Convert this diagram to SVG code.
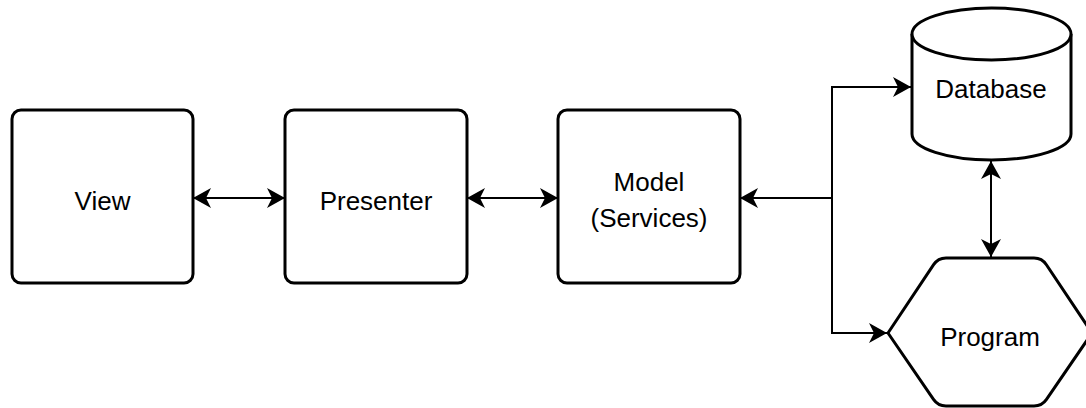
<svg xmlns="http://www.w3.org/2000/svg" width="1086" height="408" viewBox="0 0 1086 408">
  <style>
    .shape { fill: #ffffff; stroke: #000000; stroke-width: 3; stroke-linejoin: round; }
    .label { font-family: "Liberation Sans", Arial, sans-serif; font-size: 26px; fill: #000000; text-anchor: middle; }
    .link { fill: none; stroke: #000000; stroke-width: 2; }
  </style>
  <defs>
    <marker id="arrow" markerUnits="userSpaceOnUse" viewBox="0 -11 20 22" refX="18" refY="0" markerWidth="20" markerHeight="22" orient="auto-start-reverse">
      <path d="M0,-10 L18,0 L0,10 L5,0 Z" fill="#000000"/>
    </marker>
  </defs>
  <rect width="1086" height="408" fill="#ffffff"/>

  <g id="view">
    <rect class="shape" x="12" y="110" width="181" height="173" rx="9"/>
    <text class="label" x="102.5" y="209.5">View</text>
  </g>

  <g id="presenter">
    <rect class="shape" x="285" y="110" width="182" height="173" rx="9"/>
    <text class="label" x="376" y="209.5">Presenter</text>
  </g>

  <g id="model">
    <rect class="shape" x="558" y="110" width="182" height="173" rx="9"/>
    <text class="label" x="649" y="191">Model</text>
    <text class="label" x="649" y="227">(Services)</text>
  </g>

  <g id="database">
    <path class="shape" d="M912,34 A79.5,26 0 0 1 1071,34 L1071,134 A79.5,26 0 0 1 912,134 Z"/>
    <path class="shape" fill="none" d="M912,34 A79.5,26 0 0 0 1071,34"/>
    <text class="label" x="991" y="98">Database</text>
  </g>

  <g id="program">
    <!-- hexagon with softened top and bottom corners -->
    <path class="shape" d="M888,333 L933.6,264.7 Q938,258 946,258 L1034,258 Q1042,258 1046.4,264.7 L1092,333 L1046.5,399.4 Q1042,406 1034,406 L946,406 Q938,406 933.5,399.4 Z"/>
    <text class="label" x="990" y="346">Program</text>
  </g>

  <g id="connectors">
    <line class="link" x1="193" y1="198" x2="285" y2="198" marker-start="url(#arrow)" marker-end="url(#arrow)"/>
    <line class="link" x1="467" y1="198" x2="558" y2="198" marker-start="url(#arrow)" marker-end="url(#arrow)"/>
    <polyline class="link" points="832,198 740,198" marker-end="url(#arrow)"/>
    <polyline class="link" points="832,198 832,87 911,87" marker-end="url(#arrow)"/>
    <polyline class="link" points="832,198 832,333 887,333" marker-end="url(#arrow)"/>
    <line class="link" x1="991" y1="161" x2="991" y2="257" marker-start="url(#arrow)" marker-end="url(#arrow)"/>
  </g>
</svg>
